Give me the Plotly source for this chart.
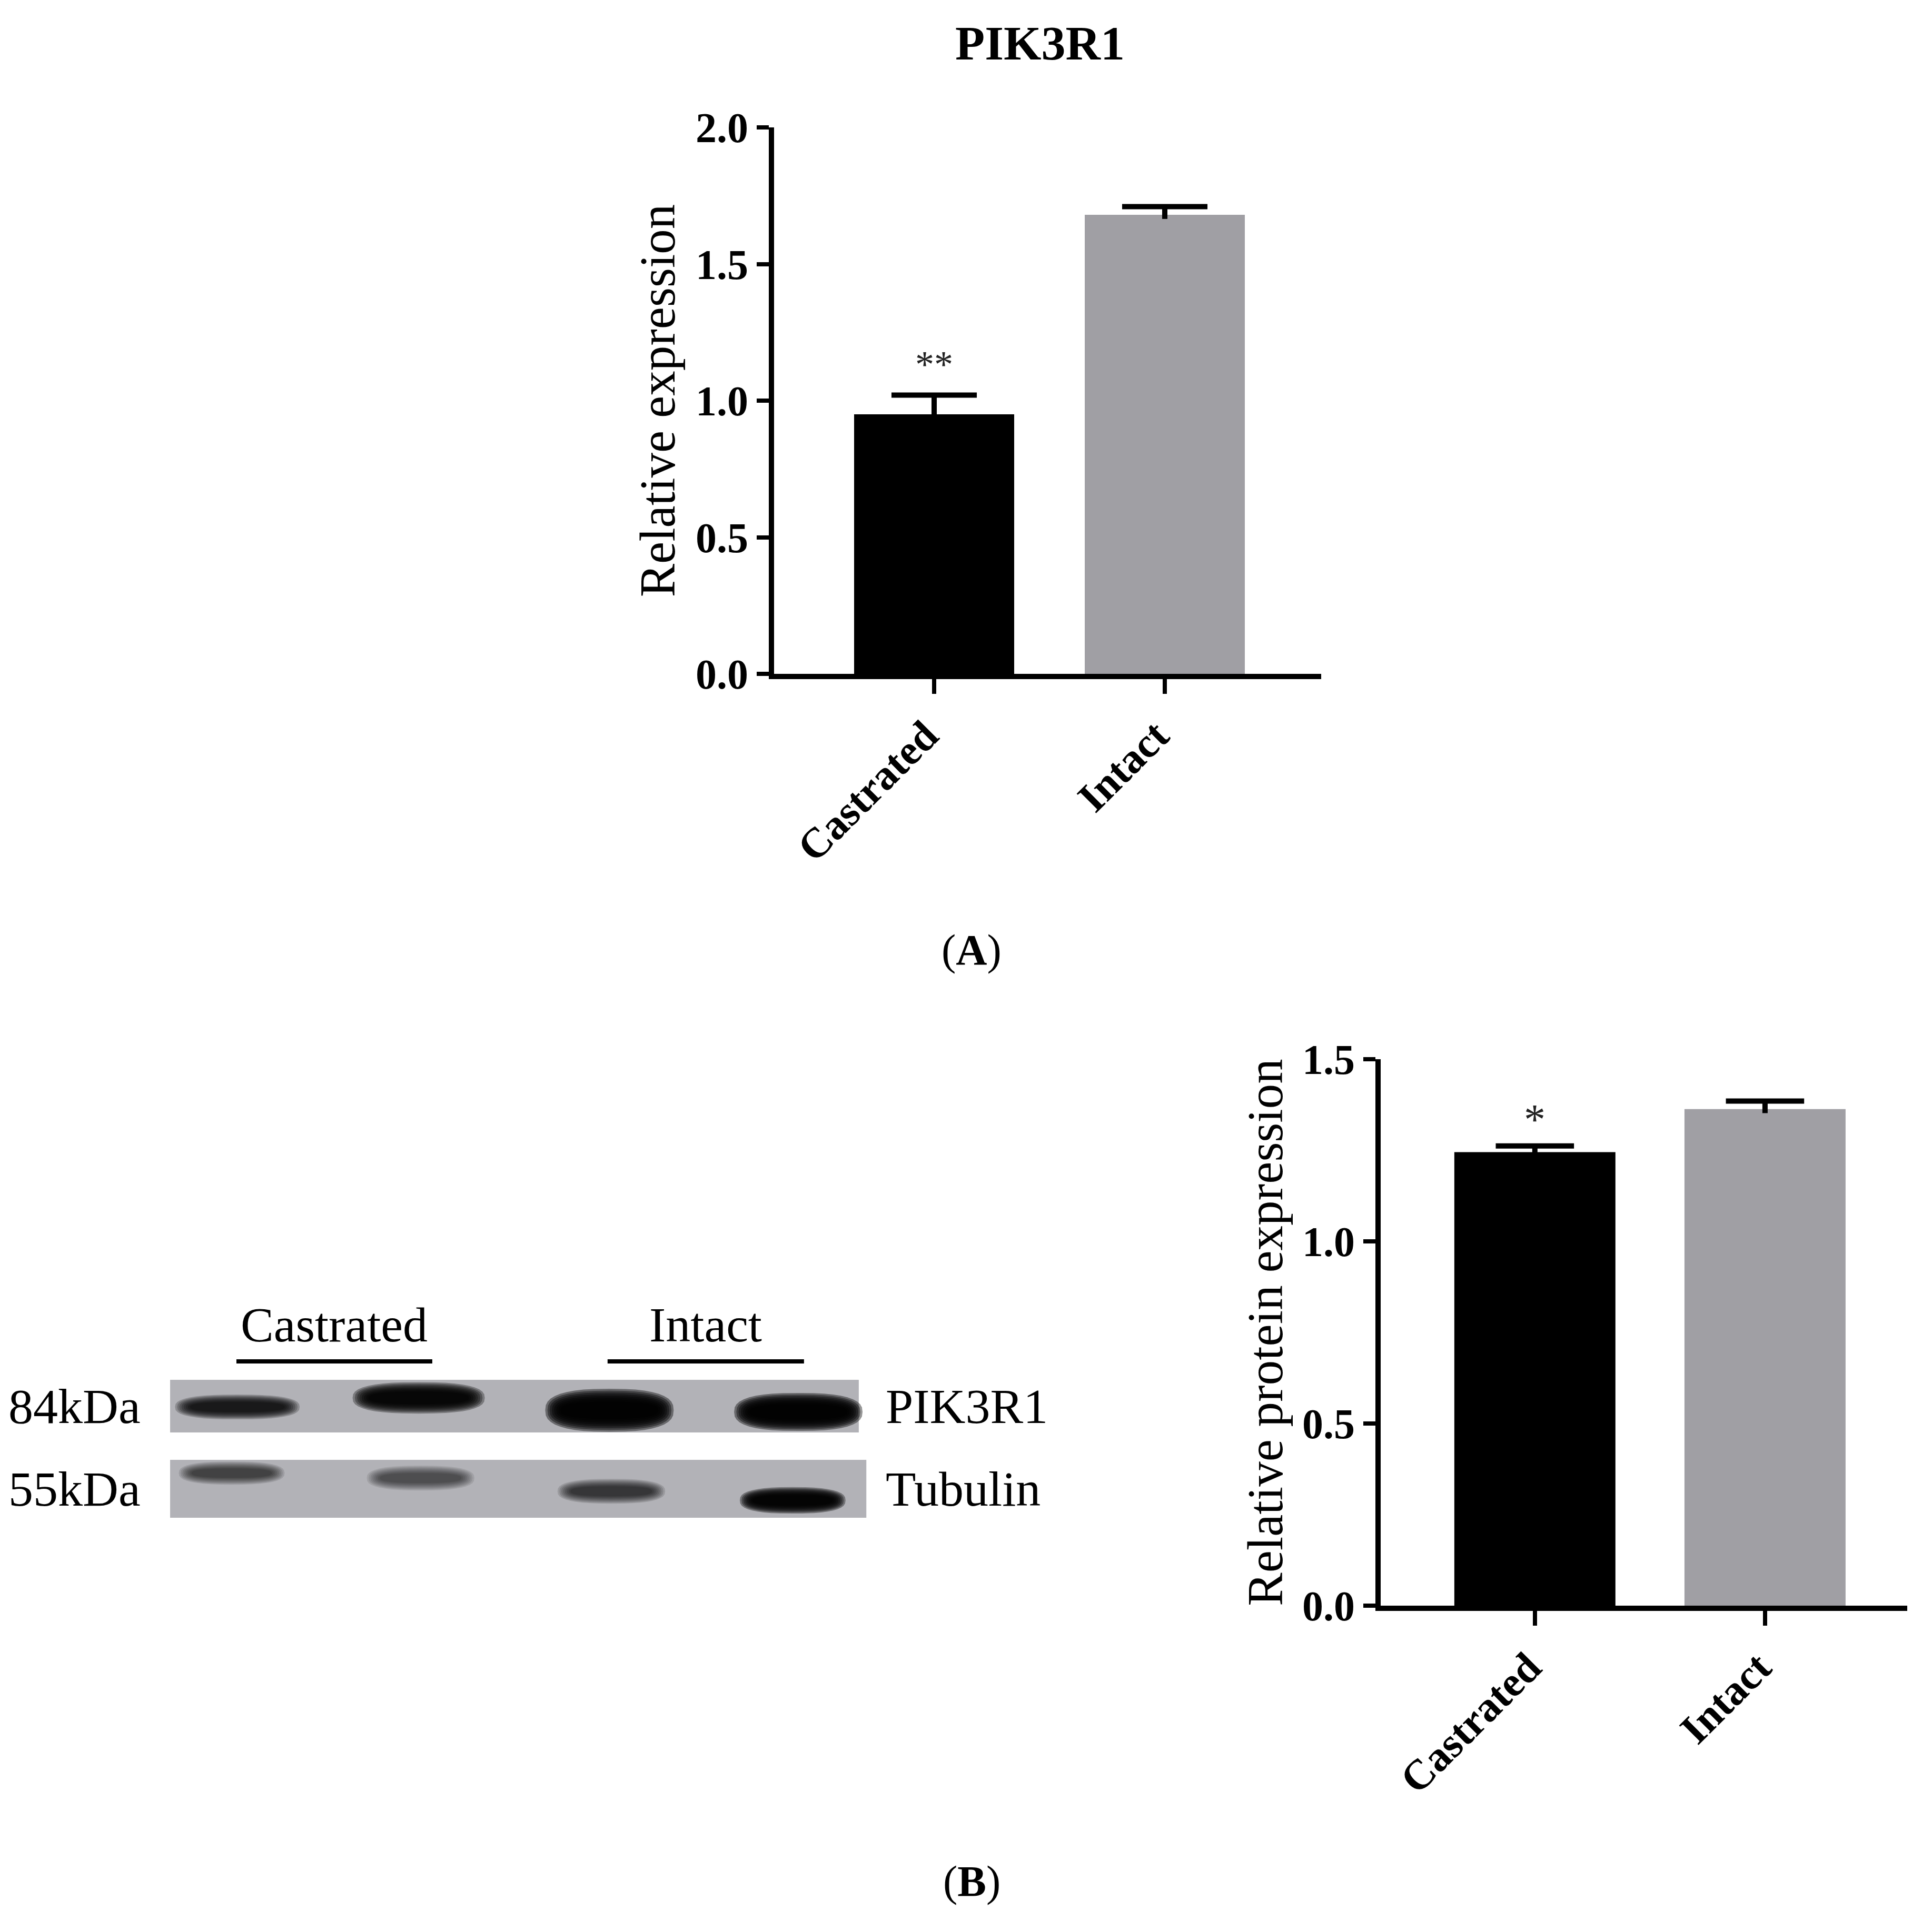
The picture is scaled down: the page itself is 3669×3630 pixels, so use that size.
import math
import plotly.graph_objects as go

# ---------------- data ----------------
categories = ["Castrated", "Intact"]
mrna_values = [0.95, 1.68]
mrna_errors = [0.07, 0.03]
mrna_sig = ["**", ""]

protein_values = [1.245, 1.363]
protein_errors = [0.017, 0.022]
protein_sig = ["*", ""]

bar_colors = ["#000000", "#a09fa4"]

# western blot (lanes 1..4: Castrated x2, Intact x2)
blot_lanes = [1, 2, 3, 4]
pik_intensity = [0.85, 0.95, 1.0, 1.0]
tub_intensity = [0.62, 0.55, 0.68, 0.97]
blot_groups = ["Castrated", "Intact"]
blot_proteins = ["PIK3R1", "Tubulin"]
blot_sizes = ["84kDa", "55kDa"]

W, H = 3669, 3630
OFF = 8  # default page body margin
FONT = "Liberation Serif"


def px_x(p):
    return (p - OFF) / W


def px_y(p):
    return 1 - (p - OFF) / H


idx = list(range(len(categories)))
fig = go.Figure()


def add_bar_panel(vals, errs, width, xa, ya, cap_half):
    fig.add_trace(go.Bar(
        x=idx, y=vals, marker=dict(color=bar_colors, line=dict(width=0)),
        width=width, xaxis=xa, yaxis=ya, showlegend=False, hoverinfo="skip",
    ))
    ex, ey = [], []
    for i, v, e in zip(idx, vals, errs):
        ex += [i - cap_half, i + cap_half, None, i, i, None]
        ey += [v + e, v + e, None, v + e, v - 0.5 * e, None]
    fig.add_trace(go.Scatter(x=ex, y=ey, mode="lines", line=dict(color="black", width=10),
                             xaxis=xa, yaxis=ya, showlegend=False, hoverinfo="skip"))


add_bar_panel(mrna_values, mrna_errors, 0.694, "x", "y", 0.185)
add_bar_panel(protein_values, protein_errors, 0.70, "x2", "y2", 0.17)

axis_common = dict(showline=True, linecolor="black", showgrid=False, zeroline=False,
                   ticks="outside", tickcolor="black", automargin=False)
tick_bold = dict(family=FONT, size=80, color="black", weight="bold")
title_font = dict(family=FONT, size=95, color="black")

# blot axis: lane units (358.7 px per lane, lane 1 at 440 px), row units (157 px per row, row 0 at 2828 px)
LANE_PX, LANE1_PX = 358.7, 440
ROW_PX, ROW0_PX = 157, 2828
bx0, bx1 = OFF, 2055
by0, by1 = 2450, 2950

layout = dict(
    width=W, height=H, autosize=False,
    margin=dict(l=0, r=0, t=0, b=0, pad=0, autoexpand=False),
    paper_bgcolor="white", plot_bgcolor="rgba(0,0,0,0)",
    xaxis=dict(domain=[px_x(1470), px_x(2509)], range=[-0.694, 1.678], anchor="y",
               tickvals=idx, ticktext=categories,
               linewidth=10, ticklen=28, tickwidth=8, tickangle=-45, tickfont=tick_bold,
               ticklabelshift=-16, **axis_common),
    yaxis=dict(domain=[px_y(1280), px_y(242)], range=[0, 2], dtick=0.5, tickformat=".1f",
               anchor="x", linewidth=10, ticklen=23, tickwidth=8, tickfont=tick_bold,
               title=dict(text="Relative expression", font=title_font, standoff=12),
               **axis_common),
    xaxis2=dict(domain=[px_x(2622), px_x(3622)], range=[-0.67, 1.618], anchor="y2",
                tickvals=idx, ticktext=categories,
                linewidth=10, ticklen=28, tickwidth=8, tickangle=-45, tickfont=tick_bold,
                ticklabelshift=-12, **axis_common),
    yaxis2=dict(domain=[px_y(3050), px_y(2012)], range=[0, 1.5], dtick=0.5, tickformat=".1f",
                anchor="x2", linewidth=10, ticklen=23, tickwidth=8, tickfont=tick_bold,
                title=dict(text="Relative protein expression", font=title_font, standoff=10),
                **axis_common),
    xaxis3=dict(domain=[px_x(bx0), px_x(bx1)],
                range=[1 + (bx0 - LANE1_PX) / LANE_PX, 1 + (bx1 - LANE1_PX) / LANE_PX],
                visible=False, anchor="y3"),
    yaxis3=dict(domain=[px_y(by1), px_y(by0)],
                range=[(ROW0_PX - by1) / ROW_PX, (ROW0_PX - by0) / ROW_PX],
                visible=False, anchor="x3"),
)
fig.update_layout(**layout)

annotations = []
shapes = []

# significance marks
for i, v, e, s in zip(idx, mrna_values, mrna_errors, mrna_sig):
    if s:
        annotations.append(dict(x=i, y=v + e + 0.113, xref="x", yref="y", text=s,
                                xanchor="center", yanchor="middle",
                                showarrow=False, font=dict(family=FONT, size=72, color="#222")))
for i, v, e, s in zip(idx, protein_values, protein_errors, protein_sig):
    if s:
        annotations.append(dict(x=i, y=v + e + 0.073, xref="x2", yref="y2", text=s,
                                xanchor="center", yanchor="middle",
                                showarrow=False, font=dict(family=FONT, size=82, color="#222")))

# title and panel letters
annotations.append(dict(x=px_x(1975), y=px_y(82), xref="paper", yref="paper", text="<b>PIK3R1</b>",
                        xanchor="center", yanchor="middle",
                        showarrow=False, font=dict(family=FONT, size=92, color="black")))
annotations.append(dict(x=px_x(1845), y=px_y(1805), xref="paper", yref="paper", text="(<b>A</b>)",
                        xanchor="center", yanchor="middle",
                        showarrow=False, font=dict(family=FONT, size=82, color="black")))
annotations.append(dict(x=px_x(1845), y=px_y(3573), xref="paper", yref="paper", text="(<b>B</b>)",
                        xanchor="center", yanchor="middle",
                        showarrow=False, font=dict(family=FONT, size=82, color="black")))

# ---------- western blot ----------
strip_rows = [1, 0]
strip_x0 = [0.674, 0.674]
strip_x1 = [4.32, 4.36]
strip_half = [0.318, 0.35]
for r, x0, x1, hh in zip(strip_rows, strip_x0, strip_x1, strip_half):
    shapes.append(dict(type="rect", xref="x3", yref="y3", x0=x0, x1=x1, y0=r - hh, y1=r + hh,
                       fillcolor="#b2b2b7", line=dict(width=0), layer="below"))

pik_x = [1.03, 1.99, 3.0, 4.0]
pik_y = [0.99, 1.10, 0.95, 0.93]
pik_w = [0.66, 0.70, 0.68, 0.68]
pik_h = [0.30, 0.38, 0.52, 0.46]
tub_x = [1.0, 2.0, 3.01, 3.97]
tub_y = [0.19, 0.13, -0.03, -0.14]
tub_w = [0.56, 0.57, 0.57, 0.56]
tub_h = [0.28, 0.30, 0.30, 0.32]

N_LAYERS = 8


def blob_path(cx, cy, hw, hh, p=2.6, n=40):
    pts = []
    for k in range(n):
        t = 2 * math.pi * k / n
        c, s = math.cos(t), math.sin(t)
        x = cx + hw * math.copysign(abs(c) ** (2 / p), c)
        y = cy + hh * math.copysign(abs(s) ** (2 / p), s)
        pts.append(f"{x:.4f},{y:.4f}")
    return "M" + " L".join(pts) + " Z"


def add_band(x, y, w, h, inten):
    inten = min(inten, 0.985)
    a = 1 - (1 - inten) ** (1 / N_LAYERS)
    for k in range(N_LAYERS):
        s = 1.0 - 0.6 * k / (N_LAYERS - 1)
        shapes.append(dict(type="path", xref="x3", yref="y3",
                           path=blob_path(x, y, w * 0.5 * (0.6 + 0.4 * s), h * 0.5 * s),
                           fillcolor="black", opacity=a, line=dict(width=0), layer="above"))


for i, lane in enumerate(blot_lanes):
    add_band(pik_x[i], pik_y[i], pik_w[i], pik_h[i], pik_intensity[i])
    add_band(tub_x[i], tub_y[i], tub_w[i], tub_h[i], tub_intensity[i])

# group labels and lines
group_x0 = [1.025, 2.99]
group_x1 = [2.062, 4.03]
for g, x0, x1 in zip(blot_groups, group_x0, group_x1):
    shapes.append(dict(type="line", xref="x3", yref="y3", x0=x0, x1=x1, y0=1.541, y1=1.541,
                       line=dict(color="black", width=8)))
    annotations.append(dict(x=(x0 + x1) / 2, y=1.99, xref="x3", yref="y3", text=g,
                            xanchor="center", yanchor="middle",
                            showarrow=False, font=dict(family=FONT, size=94, color="black")))

for r, prot, size in zip(strip_rows, blot_proteins, blot_sizes):
    annotations.append(dict(x=0.169, y=r, xref="x3", yref="y3", text=size, showarrow=False,
                            xanchor="center", yanchor="middle",
                            font=dict(family=FONT, size=94, color="black")))
    annotations.append(dict(x=4.457, y=r, xref="x3", yref="y3", text=prot, showarrow=False,
                            xanchor="left", yanchor="middle",
                            font=dict(family=FONT, size=94, color="black")))

fig.update_layout(annotations=annotations, shapes=shapes)
fig.write_html("out.html")
